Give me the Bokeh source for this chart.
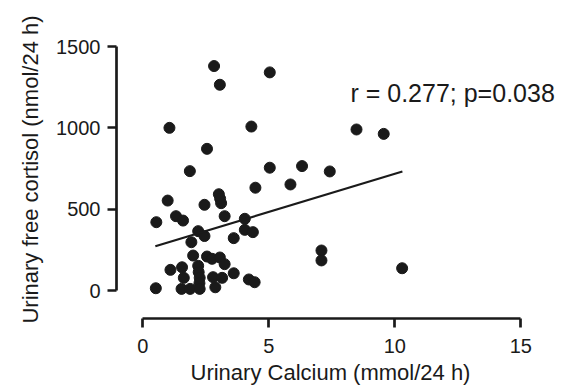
import numpy as np
from bokeh.plotting import figure
from bokeh.models import Range1d, Label, FixedTicker, ColumnDataSource, Title
from bokeh.embed import file_html
from bokeh.resources import INLINE

# Urinary calcium (mmol/24 h)
calcium = [2.83, 5.04, 3.06, 1.06, 4.31, 2.55, 1.87, 5.04, 6.32, 4.47,
           5.86, 0.99, 3.02, 3.11, 3.07, 2.45, 0.54, 1.32, 1.60, 3.25,
           4.05, 4.05, 4.37, 2.20, 2.45, 3.61, 1.93, 2.00, 2.55, 2.75,
           3.06, 3.25, 2.20, 1.56, 1.10, 3.61, 2.22, 2.26, 2.25, 1.63,
           2.79, 3.15, 4.21, 4.44, 0.52, 1.54, 1.88, 2.26, 2.88, 8.48,
           9.56, 7.42, 7.09, 7.09, 10.29]
# Urinary free cortisol (nmol/24 h)
cortisol = [1380, 1341, 1265, 1000, 1008, 871, 734, 755, 765, 632,
            652, 553, 592, 537, 565, 527, 420, 457, 430, 457,
            441, 373, 359, 365, 335, 322, 297, 215, 209, 195,
            203, 162, 152, 143, 127, 106, 113, 78, 45, 78,
            82, 78, 68, 51, 14, 10, 10, 10, 20, 990,
            963, 732, 246, 185, 137]

# Regression line end points
fit_x = [0.5, 10.3]
fit_y = [272, 732]

x_ticks = [0, 5, 10, 15]
y_ticks = [0, 500, 1000, 1500]
x_label = "Urinary Calcium (mmol/24 h)"
y_label = "Urinary free cortisol (nmol/24 h)"
stat_text = "r = 0.277; p=0.038"

FONT = "Liberation Sans"
INK = "#1a1a1a"

p = figure(width=566, height=390, output_backend="svg", toolbar_location=None,
           x_range=Range1d(-1.04, 16.81), y_range=Range1d(-172, 1660),
           min_border_left=116, min_border_right=0, min_border_top=20,
           min_border_bottom=72)
p.outline_line_color = None
p.xgrid.visible = False
p.ygrid.visible = False
p.background_fill_color = "white"
p.border_fill_color = "white"

src = ColumnDataSource(dict(x=calcium, y=cortisol))
p.scatter("x", "y", source=src, size=11, fill_color=INK, line_color=INK)
p.line(fit_x, fit_y, line_width=2.2, line_color=INK)

for ax, ticks, bounds in ((p.xaxis[0], x_ticks, (0, 15)), (p.yaxis[0], y_ticks, (0, 1500))):
    ax.ticker = FixedTicker(ticks=ticks)
    ax.bounds = bounds
    ax.axis_line_width = 2.7
    ax.axis_line_color = INK
    ax.major_tick_line_width = 2.7
    ax.major_tick_line_color = INK
    ax.major_tick_out = 9
    ax.major_tick_in = 0
    ax.minor_tick_line_color = None
    ax.major_label_text_font = FONT
    ax.major_label_text_font_size = "20px"
    ax.major_label_text_color = INK
    ax.axis_label_text_font = FONT
    ax.axis_label_text_font_size = "22px"
    ax.axis_label_text_font_style = "normal"
    ax.axis_label_text_color = INK

p.yaxis[0].axis_label = y_label
p.xaxis[0].major_label_standoff = 11
p.yaxis[0].major_label_standoff = 7
p.yaxis[0].axis_label_standoff = 10

xt = Title(text=x_label, align="left", offset=74, text_font=FONT, text_font_size="22px",
           text_font_style="normal", text_color=INK, standoff=5)
p.add_layout(xt, "below")

lab = Label(x=8.24, y=1217, text=stat_text, text_font=FONT, text_font_size="25px",
            text_color=INK, text_baseline="middle", text_align="left")
p.add_layout(lab)

open("out.html", "w").write(file_html(p, INLINE))
